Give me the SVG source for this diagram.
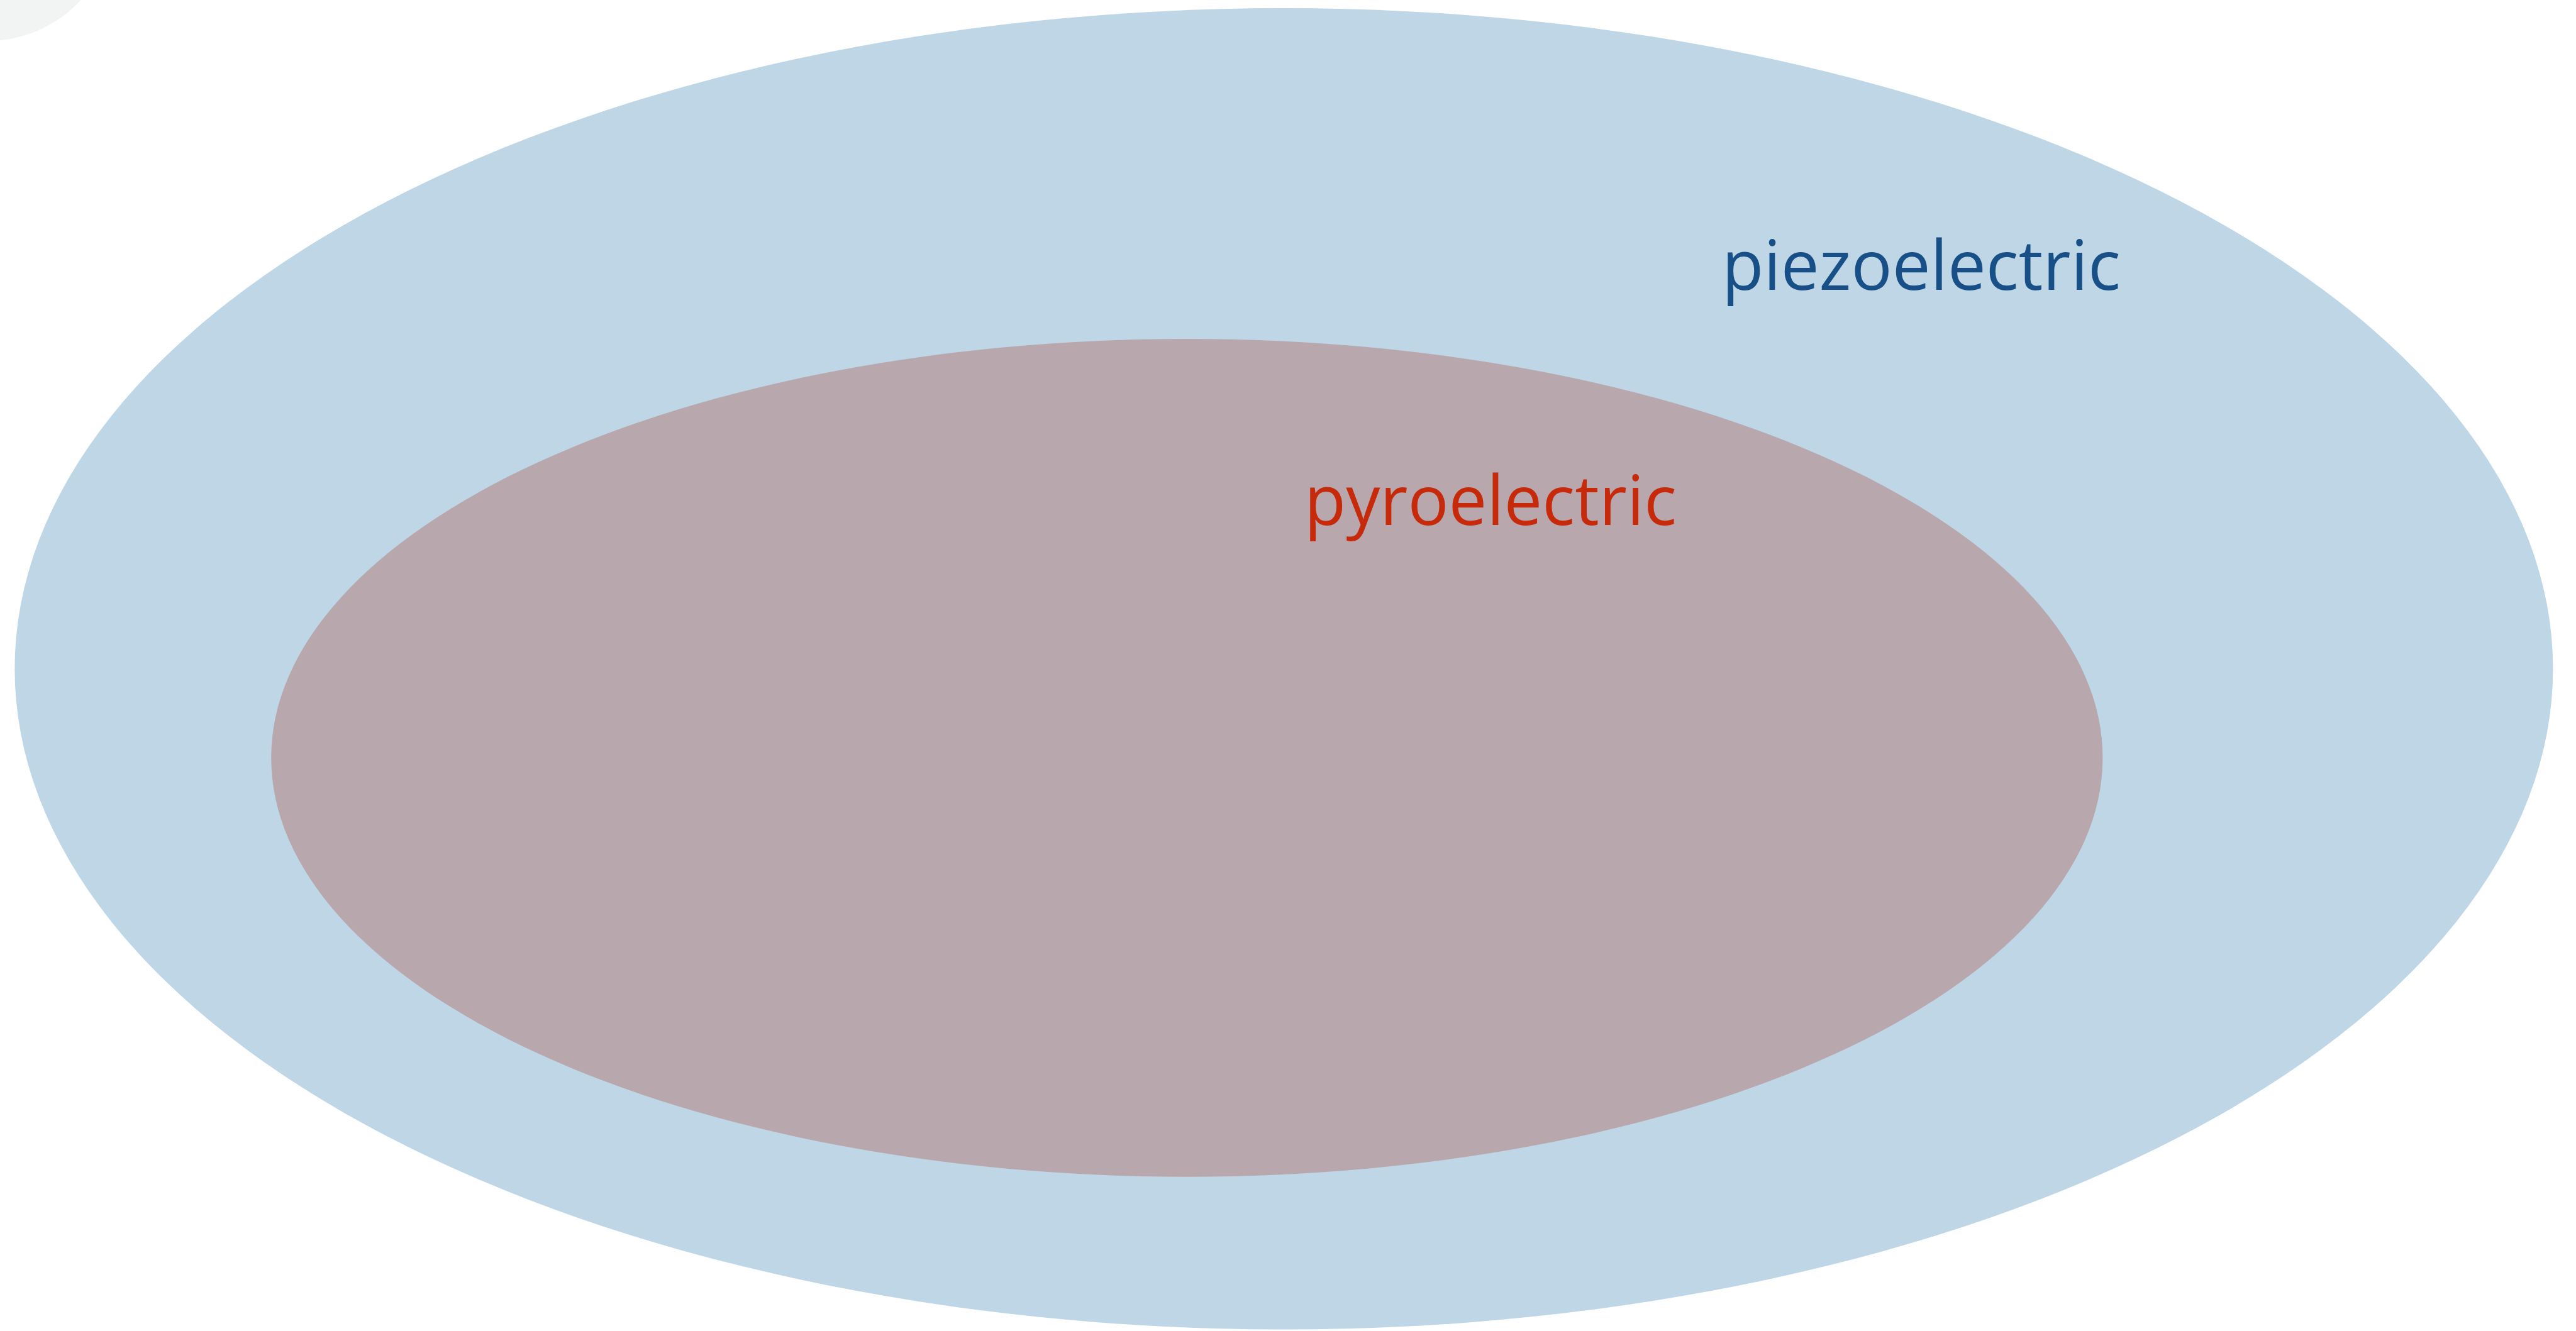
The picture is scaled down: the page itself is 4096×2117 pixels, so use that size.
<svg xmlns="http://www.w3.org/2000/svg" width="4096" height="2117" viewBox="0 0 4096 2117">
  <style>
    .label { font-family: "Open Sans", "Noto Sans", "Liberation Sans", sans-serif; font-size: 110px; font-weight: 400; }
    .outer { fill: #bed6e6; }
    .inner { fill: #b8a8ae; }
    .corner { fill: #f2f4f4; }
  </style>
  <rect width="4096" height="2117" fill="#ffffff"/>
  <!-- faint disc clipped by the top-left corner -->
  <circle class="corner" cx="-19" cy="-135" r="200"/>
  <!-- outer set -->
  <g id="piezoelectric">
    <ellipse class="outer" cx="2041.4" cy="1063.8" rx="2018" ry="1050.7"/>
    <text class="label" x="2738" y="461" fill="#174f86" textLength="634" lengthAdjust="spacingAndGlyphs">piezoelectric</text>
  </g>
  <!-- inner subset -->
  <g id="pyroelectric">
    <ellipse class="inner" cx="1887.3" cy="1205.4" rx="1456.1" ry="666.4"/>
    <text class="label" x="2074" y="835" fill="#c62a0a" textLength="592" lengthAdjust="spacingAndGlyphs">pyroelectric</text>
  </g>
</svg>
